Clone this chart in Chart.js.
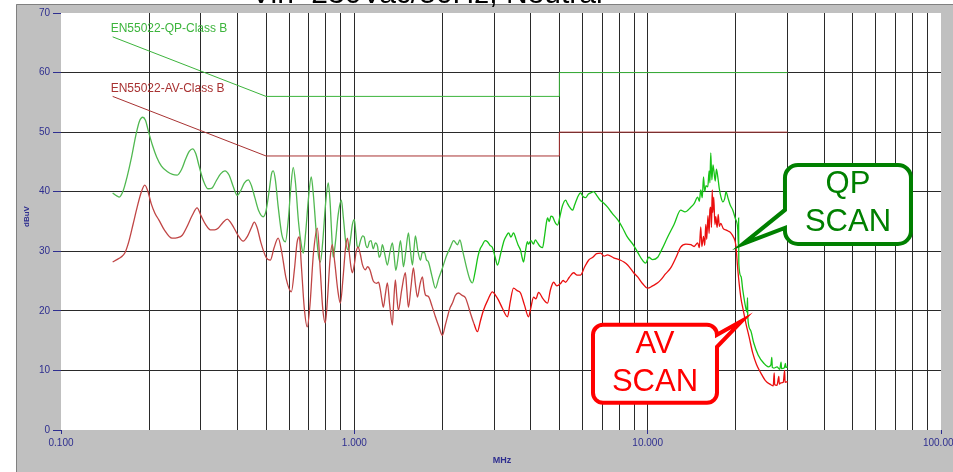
<!DOCTYPE html>
<html lang="en">
<head>
<meta charset="UTF-8">
<title>Conducted EMI scan - Neutral</title>
<script src="https://cdn.jsdelivr.net/npm/chart.js@4.4.1/dist/chart.umd.min.js"></script>
<style>
  html, body { margin: 0; padding: 0; background: #fff; }
  #scan { display: block; }
</style>
</head>
<body>
<canvas id="scan" width="953" height="472"></canvas>
<script>
  // EN55022 class B limits, MHz / dBuV
  const limitFreq = [0.15, 0.5, 5, 5, 30];
  const qpLimit = [66, 56, 56, 60, 60];
  const avLimit = [56, 46, 46, 50, 50];

  // grid positions
  const freqTicks = [0.1, 0.2, 0.3, 0.4, 0.5, 0.6, 0.7, 0.8, 0.9,
                     1, 2, 3, 4, 5, 6, 7, 8, 9,
                     10, 20, 30, 40, 50, 60, 70, 80, 90, 100];
  const levelTicks = [0, 10, 20, 30, 40, 50, 60, 70];

  // quasi-peak scan [MHz, dBuV]
  const qpScan = [
    [0.150,39.8],[0.155,39.3],[0.158,39.1],[0.163,40.2],[0.168,42.5],[0.174,45.8],[0.180,49.5],[0.185,51.8],
    [0.190,52.5],[0.194,52.0],[0.199,50.0],[0.205,47.8],[0.212,45.8],[0.220,44.3],[0.230,43.4],[0.240,42.9],
    [0.249,42.8],[0.258,43.8],[0.266,45.5],[0.274,46.8],[0.281,47.2],[0.288,46.4],[0.296,44.2],[0.305,42.0],
    [0.317,40.5],[0.327,40.6],[0.338,41.8],[0.350,43.0],[0.362,43.5],[0.374,42.8],[0.387,40.8],[0.399,39.4],
    [0.410,40.2],[0.422,41.5],[0.435,42.0],[0.446,41.0],[0.458,39.0],[0.472,36.8],[0.489,35.8],[0.500,36.8],
    [0.512,40.0],[0.522,43.0],[0.529,43.5],[0.538,42.0],[0.550,37.5],[0.566,32.8],[0.582,31.6],[0.596,35.5],
    [0.608,41.0],[0.619,44.1],[0.630,41.5],[0.645,35.0],[0.660,31.0],[0.670,29.7],[0.682,33.0],[0.698,39.0],
    [0.713,42.5],[0.725,39.5],[0.742,33.0],[0.755,29.2],[0.766,28.2],[0.780,31.5],[0.798,38.0],[0.815,41.5],
    [0.826,38.5],[0.838,32.5],[0.847,29.0],[0.862,31.5],[0.880,36.0],[0.903,38.6],[0.918,35.5],[0.935,31.5],
    [0.955,30.2],[0.970,32.0],[0.985,34.5],[1.000,35.3],[1.012,33.0],[1.022,30.9],[1.032,30.6],[1.050,31.8],
    [1.068,32.6],[1.081,32.4],[1.095,31.0],[1.110,30.6],[1.125,31.6],[1.140,31.8],[1.160,30.4],[1.180,31.4],
    [1.200,30.8],[1.215,29.0],[1.230,29.5],[1.246,31.1],[1.270,29.5],[1.296,27.7],[1.322,29.8],[1.348,31.4],
    [1.365,29.5],[1.385,26.8],[1.410,29.0],[1.436,31.8],[1.452,30.0],[1.470,27.4],[1.498,30.0],[1.529,33.1],
    [1.550,30.5],[1.578,27.7],[1.598,30.5],[1.615,32.6],[1.645,30.2],[1.680,28.5],[1.705,29.8],[1.734,29.8],
    [1.760,28.6],[1.789,28.2],[1.840,25.8],[1.890,23.8],[1.940,25.5],[1.997,27.2],[2.060,29.2],[2.126,30.7],
    [2.180,31.8],[2.247,31.1],[2.290,31.9],[2.337,30.2],[2.420,27.0],[2.480,25.2],[2.527,24.7],[2.580,26.5],
    [2.640,29.2],[2.690,30.5],[2.735,31.1],[2.790,31.8],[2.844,31.6],[2.900,31.0],[2.958,30.6],[3.020,29.0],
    [3.077,27.7],[3.150,29.5],[3.240,31.8],[3.300,32.6],[3.355,33.1],[3.420,32.4],[3.489,33.1],[3.560,32.0],
    [3.620,31.0],[3.686,30.2],[3.730,29.0],[3.774,28.2],[3.830,30.0],[3.890,31.6],[3.926,31.2],[4.000,31.8],
    [4.080,31.2],[4.140,31.9],[4.214,31.4],[4.300,30.8],[4.381,30.6],[4.450,32.5],[4.510,34.6],[4.557,35.6],
    [4.620,35.0],[4.680,35.9],[4.741,35.8],[4.820,35.0],[4.870,34.6],[4.930,34.4],[5.020,35.8],[5.120,37.6],
    [5.250,38.6],[5.330,38.0],[5.420,37.4],[5.546,36.9],[5.640,37.8],[5.760,39.0],[5.904,39.8],[6.020,39.2],
    [6.141,39.0],[6.280,39.6],[6.400,39.8],[6.540,40.0],[6.700,39.4],[6.880,38.6],[7.076,38.1],[7.300,37.4],
    [7.560,36.4],[7.900,35.3],[8.200,34.0],[8.500,32.5],[8.958,31.0],[9.300,29.6],[9.600,28.5],[9.844,28.0],
    [10.08,29.0],[10.40,28.6],[10.82,29.0],[11.20,30.4],[11.70,32.4],[12.30,34.5],[12.96,36.9],[13.40,36.6],
    [14.03,37.4],[14.40,38.0],[14.81,39.1],[15.00,38.4],[15.17,40.3],[15.35,39.0],[15.50,42.5],[15.65,40.0],
    [15.80,41.0],[16.03,40.8],[16.20,43.5],[16.30,41.5],[16.41,46.5],[16.55,42.0],[16.70,44.5],[16.81,43.6],
    [17.00,41.8],[17.15,43.8],[17.34,42.5],[17.55,40.5],[17.80,39.0],[18.03,38.3],[18.30,38.8],[18.50,40.0],
    [18.75,39.1],[19.10,37.8],[19.51,36.9],[19.90,35.5],[20.29,33.6],[20.38,31.0],[20.42,35.6],[20.45,28.0],
    [20.80,25.8],[21.10,23.5],[21.50,21.0],[21.80,19.8],[21.90,22.2],[21.94,19.0],[22.40,16.8],[23.00,14.6],
    [23.80,12.6],[24.89,11.2],[25.80,10.6],[26.30,10.9],[26.50,12.2],[26.60,10.5],[26.92,10.4],[27.60,10.6],
    [28.20,10.2],[28.50,11.4],[28.60,10.3],[29.20,10.4],[29.50,11.2],[29.60,10.5],[30.00,10.6]
  ];

  // average scan [MHz, dBuV]
  const avScan = [
    [0.150,28.2],[0.155,28.6],[0.160,29.0],[0.165,29.7],[0.170,31.5],[0.176,34.5],[0.182,37.5],[0.188,40.0],
    [0.193,41.1],[0.198,40.0],[0.203,38.0],[0.209,36.4],[0.216,35.2],[0.225,33.6],[0.239,32.2],[0.250,32.3],
    [0.259,32.7],[0.268,34.0],[0.280,36.0],[0.291,37.3],[0.300,36.0],[0.311,34.5],[0.323,33.6],[0.334,33.6],
    [0.344,33.9],[0.356,34.8],[0.369,35.4],[0.379,34.8],[0.388,34.0],[0.400,32.8],[0.418,31.7],[0.432,32.5],
    [0.446,34.0],[0.456,34.9],[0.466,34.0],[0.480,31.5],[0.500,29.0],[0.517,28.5],[0.532,30.5],[0.550,32.2],
    [0.565,30.0],[0.585,25.5],[0.610,23.2],[0.625,27.0],[0.638,31.5],[0.649,32.4],[0.660,27.5],[0.675,20.5],
    [0.691,17.3],[0.706,21.0],[0.725,29.5],[0.748,33.9],[0.765,27.0],[0.780,20.5],[0.796,18.0],[0.810,22.0],
    [0.826,28.5],[0.841,31.1],[0.858,28.0],[0.878,23.5],[0.896,21.3],[0.915,25.5],[0.933,30.5],[0.947,32.2],
    [0.960,30.0],[0.973,27.5],[0.984,26.4],[1.000,27.8],[1.015,30.0],[1.030,30.7],[1.048,29.5],[1.065,27.8],
    [1.090,26.9],[1.110,27.4],[1.130,26.9],[1.160,25.0],[1.190,24.6],[1.210,24.8],[1.227,23.5],[1.240,22.0],
    [1.256,20.6],[1.276,22.8],[1.296,24.7],[1.320,21.0],[1.348,17.6],[1.362,21.5],[1.380,25.2],[1.395,22.5],
    [1.413,20.1],[1.450,23.5],[1.493,26.4],[1.510,23.5],[1.529,20.6],[1.560,24.0],[1.590,27.2],[1.615,24.5],
    [1.641,22.3],[1.675,24.5],[1.707,25.7],[1.728,23.8],[1.747,22.7],[1.789,22.4],[1.840,20.8],[1.890,19.0],
    [1.940,17.4],[1.997,15.9],[2.040,17.5],[2.077,19.0],[2.120,20.5],[2.160,21.3],[2.210,22.6],[2.264,23.0],
    [2.330,22.6],[2.392,22.2],[2.440,21.0],[2.488,19.6],[2.560,17.8],[2.628,16.5],[2.690,18.3],[2.756,20.1],
    [2.850,21.8],[2.958,23.2],[3.030,22.6],[3.101,21.8],[3.200,20.4],[3.329,19.0],[3.400,21.5],[3.489,23.8],
    [3.590,23.4],[3.686,23.0],[3.800,21.0],[3.926,19.0],[4.000,20.6],[4.083,22.3],[4.160,22.0],[4.246,23.1],
    [4.400,22.0],[4.557,21.3],[4.660,23.5],[4.778,24.8],[4.900,24.2],[5.048,24.6],[5.150,25.1],[5.250,24.8],
    [5.400,25.6],[5.590,26.4],[5.750,26.0],[5.904,26.0],[6.100,27.4],[6.288,28.5],[6.500,29.0],[6.700,29.6],
    [6.912,29.7],[7.100,29.2],[7.300,29.4],[7.656,28.9],[8.088,28.5],[8.300,28.2],[8.545,27.7],[8.958,26.4],
    [9.245,25.7],[9.600,24.6],[10.00,23.8],[10.40,24.2],[10.82,24.7],[11.08,25.2],[11.50,26.2],[11.98,27.2],
    [12.50,29.0],[12.96,30.7],[13.50,31.2],[14.03,31.1],[14.40,30.8],[14.81,31.4],[15.00,30.6],[15.17,34.1],
    [15.30,30.8],[15.50,32.5],[15.65,31.0],[15.78,34.5],[15.90,32.0],[16.05,36.0],[16.20,33.0],[16.30,37.0],
    [16.41,37.4],[16.50,34.0],[16.60,40.3],[16.67,36.5],[16.80,39.1],[16.95,34.5],[17.07,35.8],[17.25,34.0],
    [17.40,36.2],[17.55,34.2],[17.75,34.7],[18.10,33.8],[18.46,33.6],[18.80,33.4],[19.20,33.1],[19.60,32.4],
    [19.97,31.1],[20.29,26.9],[20.77,22.3],[21.20,20.0],[21.60,18.0],[22.20,15.5],[22.82,12.9],[23.50,11.0],
    [24.30,9.6],[25.20,8.3],[26.29,7.6],[26.80,7.4],[27.00,9.6],[27.10,7.6],[27.60,7.5],[28.00,9.0],
    [28.10,7.7],[28.44,7.9],[29.00,8.0],[29.30,10.0],[29.40,8.0],[30.00,8.1]
  ];

  // callout anchor points on the traces [MHz, dBuV]
  const qpCallout = [20.8, 30.9];
  const avCallout = [21.3, 18.5];

  const navy = '#2e2e8f';
  const zip = (xs, ys) => xs.map((x, i) => ({ x: x, y: ys[i] }));
  const pairs = list => list.map(p => ({ x: p[0], y: p[1] }));
  const isDecade = v => Math.abs(Math.log10(v) - Math.round(Math.log10(v))) < 1e-6;

  // grey panel behind the plot, white plot area
  const frame = {
    id: 'frame',
    beforeDraw(chart) {
      const { ctx, chartArea: a, width, height } = chart;
      ctx.save();
      ctx.fillStyle = '#fff';
      ctx.fillRect(0, 0, width, height);
      ctx.fillStyle = '#c0c0c0';
      ctx.fillRect(16, 4, width - 16, height - 4);
      ctx.strokeStyle = '#808080';
      ctx.lineWidth = 1;
      ctx.beginPath();
      ctx.moveTo(16.5, height);
      ctx.lineTo(16.5, 4.5);
      ctx.lineTo(width, 4.5);
      ctx.stroke();
      ctx.fillStyle = '#fff';
      ctx.fillRect(a.left, a.top, a.right - a.left, a.bottom - a.top);
      ctx.restore();
    }
  };

  function bubble(ctx, b) {
    const { x, y, w, h, r, side, b1, b2, tx, ty } = b;
    ctx.beginPath();
    ctx.moveTo(x + r, y);
    ctx.lineTo(x + w - r, y);
    ctx.arcTo(x + w, y, x + w, y + r, r);
    if (side === 'right') {
      ctx.lineTo(x + w, b1);
      ctx.lineTo(tx, ty);
      ctx.lineTo(x + w, b2);
    }
    ctx.lineTo(x + w, y + h - r);
    ctx.arcTo(x + w, y + h, x + w - r, y + h, r);
    ctx.lineTo(x + r, y + h);
    ctx.arcTo(x, y + h, x, y + h - r, r);
    if (side === 'left') {
      ctx.lineTo(x, b2);
      ctx.lineTo(tx, ty);
      ctx.lineTo(x, b1);
    }
    ctx.lineTo(x, y + r);
    ctx.arcTo(x, y, x + r, y, r);
    ctx.closePath();
    ctx.fillStyle = '#fff';
    ctx.fill();
    ctx.lineWidth = 4;
    ctx.lineJoin = 'miter';
    ctx.strokeStyle = b.color;
    ctx.stroke();
    ctx.fillStyle = b.color;
    ctx.font = '31px Arial, "Liberation Sans", sans-serif';
    ctx.textAlign = 'center';
    ctx.textBaseline = 'middle';
    ctx.fillText(b.lines[0], x + w / 2, y + 20);
    ctx.fillText(b.lines[1], x + w / 2, y + 58);
  }

  // limit labels, axis titles, callouts and heading
  const notes = {
    id: 'notes',
    afterDraw(chart) {
      const { ctx } = chart;
      const xs = chart.scales.x, ys = chart.scales.y;
      ctx.save();

      ctx.font = '12px Arial, "Liberation Sans", sans-serif';
      ctx.textAlign = 'left';
      ctx.textBaseline = 'middle';
      const lx = xs.getPixelForValue(limitFreq[0]) - 2;
      ctx.fillStyle = '#3cb43c';
      ctx.fillText('EN55022-QP-Class B', lx, ys.getPixelForValue(qpLimit[0]) - 8);
      ctx.fillStyle = '#a83232';
      ctx.fillText('EN55022-AV-Class B', lx, ys.getPixelForValue(avLimit[0]) - 8);

      ctx.fillStyle = navy;
      ctx.font = 'bold 9px Arial, "Liberation Sans", sans-serif';
      ctx.textAlign = 'center';
      ctx.fillText('MHz', (xs.left + xs.right) / 2 + 1, 461);
      ctx.save();
      ctx.translate(27, (ys.top + ys.bottom) / 2 - 5);
      ctx.rotate(-Math.PI / 2);
      ctx.font = 'bold 8px Arial, "Liberation Sans", sans-serif';
      ctx.fillText('dBuV', 0, 0);
      ctx.restore();

      const qx = xs.getPixelForValue(qpCallout[0]), qy = ys.getPixelForValue(qpCallout[1]);
      bubble(ctx, {
        x: qx + 44, y: qy - 81, w: 126, h: 79, r: 13, side: 'left',
        b1: qy - 36, b2: qy - 18, tx: qx + 2, ty: qy - 2,
        color: '#008000', lines: ['QP', 'SCAN']
      });
      const ax = xs.getPixelForValue(avCallout[0]), ay = ys.getPixelForValue(avCallout[1]);
      bubble(ctx, {
        x: ax - 151, y: ay + 5, w: 124, h: 78, r: 10, side: 'right',
        b1: ay + 15, b2: ay + 27, tx: ax - 2, ty: ay + 1,
        color: '#ff0000', lines: ['AV', 'SCAN']
      });

      ctx.fillStyle = '#000';
      ctx.font = '30px Arial, "Liberation Sans", sans-serif';
      ctx.textAlign = 'left';
      ctx.textBaseline = 'alphabetic';
      ctx.fillText('Vin=230Vac/50Hz, Neutral', 251, 3);
      ctx.restore();
    }
  };

  new Chart(document.getElementById('scan'), {
    type: 'line',
    data: {
      datasets: [
        {
          label: 'AV',
          data: pairs(avScan),
          borderColor: '#e01010',
          borderWidth: 1.3,
          cubicInterpolationMode: 'monotone',
          segment: { borderColor: c => c.p0.parsed.x < 2.5 ? '#c04545' : '#ea0f0f' }
        },
        {
          label: 'QP',
          data: pairs(qpScan),
          borderColor: '#20bf20',
          borderWidth: 1.3,
          cubicInterpolationMode: 'monotone',
          segment: { borderColor: c => c.p0.parsed.x < 2.5 ? '#50b850' : '#17c317' }
        },
        { label: 'EN55022-QP-Class B', data: zip(limitFreq, qpLimit), borderColor: '#3cb43c', borderWidth: 1 },
        { label: 'EN55022-AV-Class B', data: zip(limitFreq, avLimit), borderColor: '#a83232', borderWidth: 1 }
      ]
    },
    options: {
      responsive: false,
      animation: false,
      devicePixelRatio: 1,
      layout: { padding: { top: 13, right: 12, left: 0, bottom: 0 } },
      elements: { point: { radius: 0 }, line: { tension: 0, fill: false } },
      plugins: { legend: { display: false }, tooltip: { enabled: false } },
      scales: {
        x: {
          type: 'logarithmic',
          min: 0.1,
          max: 100,
          afterBuildTicks: s => { s.ticks = freqTicks.map(v => ({ value: v })); },
          afterFit: s => { s.height = 42; s.paddingLeft = 0; s.paddingRight = 0; },
          border: { display: false },
          grid: {
            color: c => (c.tick && (c.tick.value === 0.1 || c.tick.value === 100)) ? 'rgba(0,0,0,0)' : '#2a2a2a',
            lineWidth: 1,
            drawTicks: true,
            tickLength: 4,
            tickColor: c => (c.tick && isDecade(c.tick.value)) ? navy : 'rgba(0,0,0,0)'
          },
          ticks: {
            autoSkip: false,
            maxRotation: 0,
            padding: 3,
            color: navy,
            font: { family: 'Arial, "Liberation Sans", sans-serif', size: 10 },
            callback: v => isDecade(v) ? Number(v).toFixed(3) : ''
          }
        },
        y: {
          min: 0,
          max: 70,
          afterBuildTicks: s => { s.ticks = levelTicks.map(v => ({ value: v })); },
          afterFit: s => { s.width = 61; s.paddingTop = 0; s.paddingBottom = 0; },
          border: { display: false },
          grid: {
            color: c => (c.tick && (c.tick.value === 0 || c.tick.value === 70)) ? 'rgba(0,0,0,0)' : '#2a2a2a',
            lineWidth: 1,
            drawTicks: true,
            tickLength: 8,
            tickColor: navy
          },
          ticks: {
            padding: 3,
            color: navy,
            font: { family: 'Arial, "Liberation Sans", sans-serif', size: 10 }
          }
        }
      }
    },
    plugins: [frame, notes]
  });
</script>
</body>
</html>
